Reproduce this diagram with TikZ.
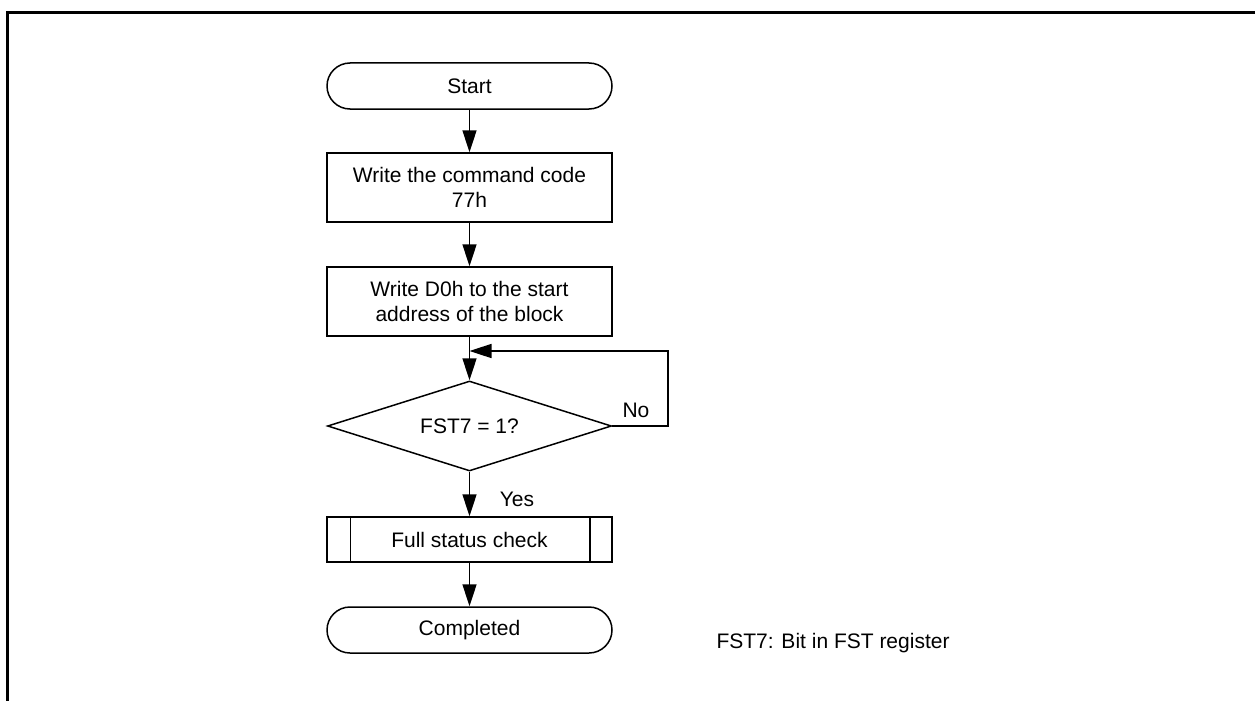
\documentclass[tikz,border=0pt]{standalone}
\usepackage{fontspec}
\setmainfont{Liberation Sans}
\usetikzlibrary{arrows.meta,shapes.geometric}
\begin{document}
\begin{tikzpicture}[x=1pt,y=-1pt,
  every node/.style={font=\fontsize{21}{24.5}\selectfont},
  shape line/.style={draw=black, line width=1.5pt},
  term/.style={shape line, rectangle, rounded corners=23pt, minimum width=285pt, minimum height=46pt, inner sep=0pt},
  procbox/.style={shape line, rectangle, minimum width=285pt, minimum height=69pt, inner sep=0pt, align=center},
  predef/.style={shape line, rectangle, minimum width=285pt, minimum height=45pt, inner sep=0pt},
  decision/.style={shape line, diamond, aspect=3.16, minimum width=284pt, minimum height=90pt, inner sep=0pt},
  arr/.style={line width=1.6pt, -{Triangle[length=22pt,width=14pt]}},
  frame/.style={line width=3pt}]
\useasboundingbox (0,0) rectangle (1255,701);
% frame
\coordinate (ftl) at (7,13);
\coordinate (fr) at (1255,13);
\coordinate (fb) at (7,701);
\draw[frame] (fr) -- (ftl) -- (fb);
% nodes
\node[term] (start) at (469.5,86) {Start};
\node[procbox] (b1) at (469.5,187.5) {Write the command code\\77h};
\node[procbox] (b2) at (469.5,301.5) {Write D0h to the start\\address of the block};
\node[decision] (d) at (469.5,426) {FST7 = 1?};
\node[predef] (p) at (469.5,539.5) {Full status check};
\draw[shape line] ([xshift=24pt]p.north west) -- ([xshift=24pt]p.south west);
\draw[shape line] ([xshift=-23pt]p.north east) -- ([xshift=-23pt]p.south east);
\node[term] (end) at (469.5,630) {Completed};
\node[anchor=west] (note) at (713,643) {FST7: Bit in FST register};
% connectors
\coordinate (m) at (469.5,351);
\coordinate (lc) at (668,351);
\draw[arr] (start) -- (b1);
\draw[arr] (b1) -- (b2);
\draw[arr] (b2) -- (d);
\draw[arr] (d.east) -| (lc) -- (m);
\draw[arr] (d) -- (p);
\draw[arr] (p) -- (end);
\node (no) at (636,410) {No};
\node (yes) at (517,499) {Yes};
\end{tikzpicture}
\end{document}
